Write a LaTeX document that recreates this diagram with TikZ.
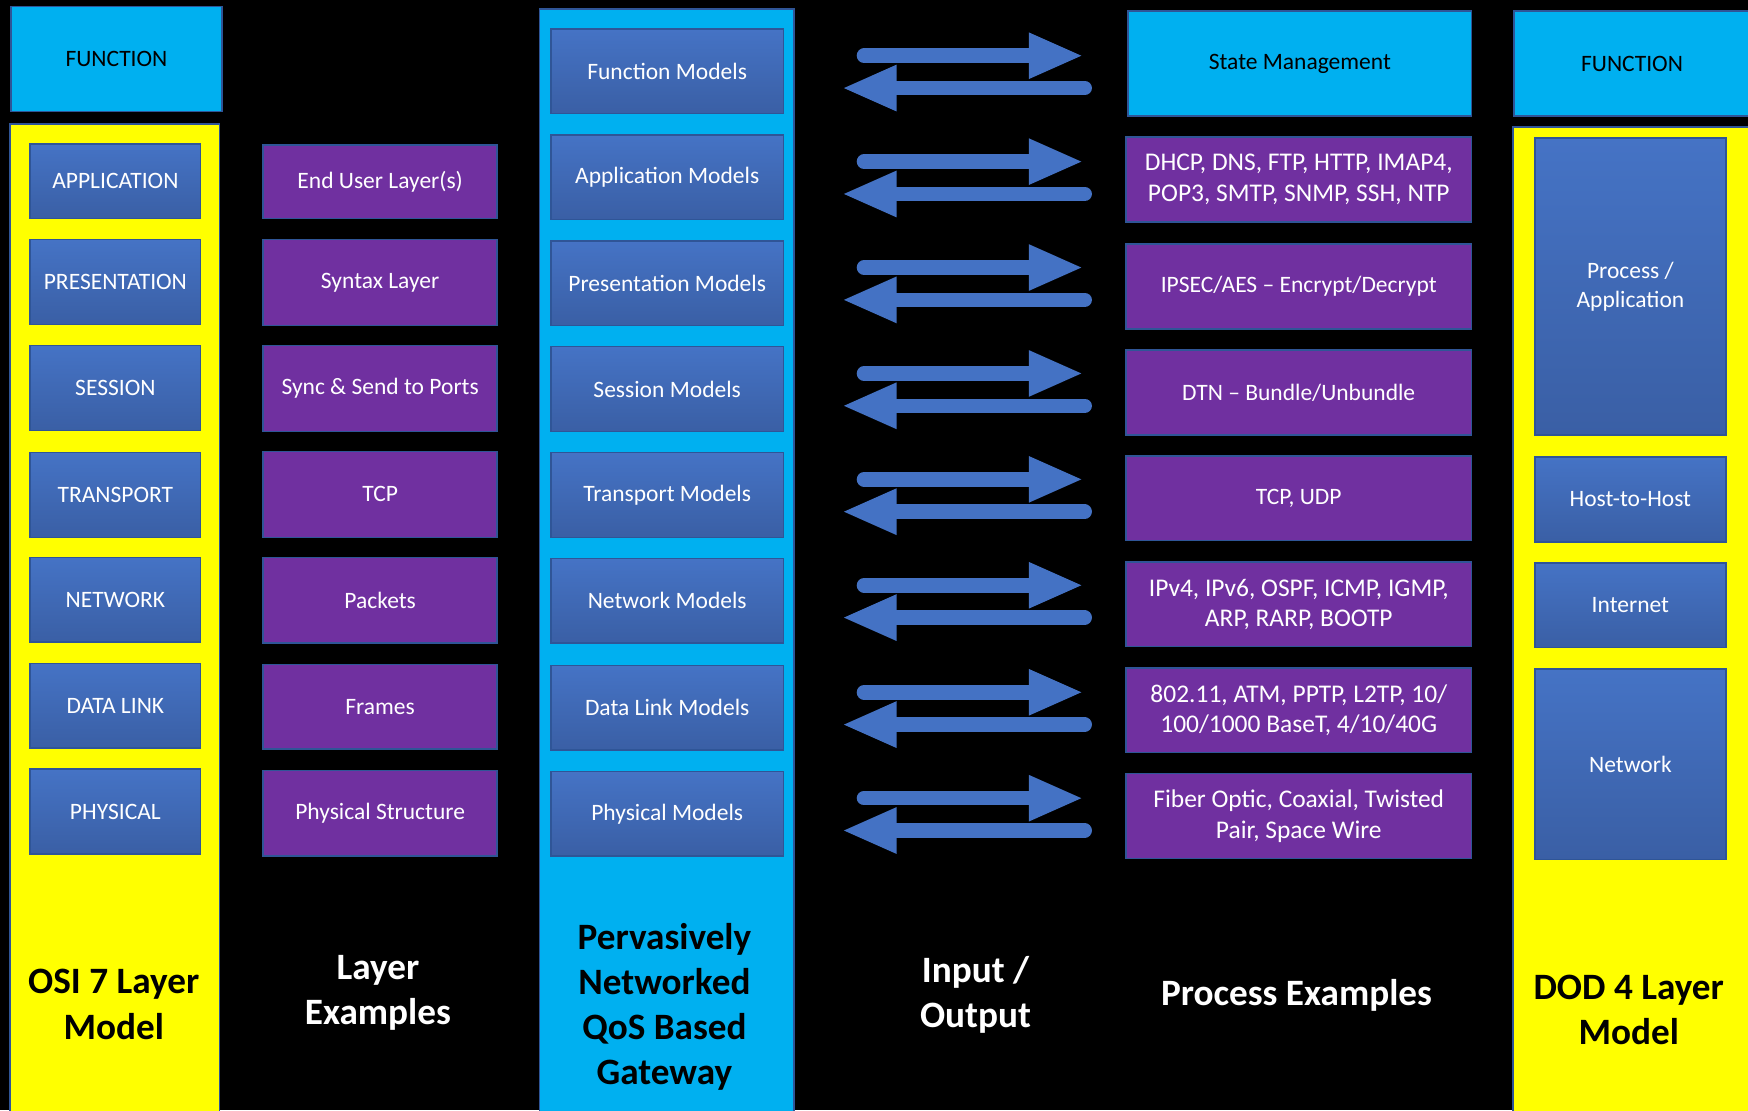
\documentclass[tikz,border=0pt]{standalone}
\usepackage{fontspec}
\setmainfont{Carlito}
\usetikzlibrary{arrows.meta}
\usetikzlibrary{calc}

\definecolor{funccyan}{HTML}{00B0F0}
\definecolor{bandyellow}{HTML}{FFFF00}
\definecolor{layerpurple}{HTML}{7030A0}
\definecolor{edgeblue}{HTML}{2F5597}
\definecolor{boxtop}{HTML}{4573C5}
\definecolor{boxbottom}{HTML}{3A5FA5}
\definecolor{arrowblue}{HTML}{4472C4}

\tikzset{
  cell/.style n args={4}{at={({(#1+#3)/2},{(#2+#4)/2})}, minimum width={(#3-#1)*0.02cm}, minimum height={(#4-#2)*0.02cm}},
  base/.style={rectangle, draw=edgeblue, line width=0.8pt, inner sep=0pt, align=center, font=\fontsize{12}{14.8}\selectfont},
  band/.style={base, draw=edgeblue},
  funcbox/.style={base, fill=funccyan, text=black},
  modelbox/.style={base, top color=boxtop, bottom color=boxbottom, text=white},
  examplebox/.style={base, fill=layerpurple, text=white},
  twoline/.style={font=\fontsize{13}{15.5}\selectfont},
  coltitle/.style={align=center, font=\fontsize{19}{23}\selectfont\bfseries},
  flow/.style={draw=arrowblue, line width=7.4pt, line cap=round, -{Triangle[length=28pt, width=21.5pt]}}
}

\begin{document}
\begin{tikzpicture}[x=0.02cm, y=-0.02cm]
    \useasboundingbox (0,0) rectangle (1568,996);
    \fill[black] (0,0) rectangle (1568,996);

    \node[funcbox, cell={10}{6}{199}{100}] (osifunc) {FUNCTION};
    \node[band, fill=bandyellow, cell={9}{111}{197}{1002}] (osiband) {};
    \foreach \n/\ya/\yb/\txt in {1/129/196/APPLICATION, 2/215/291/PRESENTATION, 3/310/386/SESSION, 4/406/482/TRANSPORT, 5/500/576/NETWORK, 6/595/671/DATA LINK, 7/690/766/PHYSICAL} {
        \node[modelbox, cell={27}{\ya}{180}{\yb}] (osi\n) {\txt};
    }
    \node[coltitle] (osititle) at (102,901) {OSI 7 Layer\\Model};

    \foreach \n/\ya/\yb/\txt in {1/130/196/End User Layer(s), 2/215/292/Syntax Layer, 3/310/387/{Sync \& Send to Ports}, 4/405/482/TCP, 5/500/577/Packets, 6/596/672/Frames, 7/691/768/Physical Structure} {
        \node[examplebox, cell={236}{\ya}{446}{\yb}] (lex\n) {\txt};
    }
    \node[coltitle, text=white] (lextitle) at (339,891) {Layer\\Examples};

    \node[band, fill=funccyan, cell={484}{8}{712}{1002}] (gwband) {};
    \foreach \n/\ya/\yb/\txt in {0/26/102/Function Models, 1/121/197/Application Models, 2/216/292/Presentation Models, 3/311/387/Session Models, 4/406/482/Transport Models, 5/501/577/Network Models, 6/597/673/Data Link Models, 7/692/768/Physical Models} {
        \node[modelbox, cell={494}{\ya}{703}{\yb}] (gw\n) {\txt};
    }
    \node[coltitle] (gwtitle) at (596,903) {Pervasively\\Networked\\QoS Based\\Gateway};

    \foreach \n/\y in {0/64, 1/159, 2/254, 3/349, 4/444, 5/539, 6/635, 7/730} {
        \coordinate (out\n) at (775,\y-14);
        \coordinate (outend\n) at (972,\y-14);
        \coordinate (back\n) at (973,\y+15);
        \coordinate (backend\n) at (755,\y+15);
        \draw[flow] (out\n) -- (outend\n);
        \draw[flow] (back\n) -- (backend\n);
    }
    \node[coltitle, text=white] (iotitle) at (875,892) {Input /\\Output};

    \node[funcbox, cell={1012}{10}{1320}{104}] (pex0) {State Management};
    \foreach \n/\ya/\yb/\st/\txt in {1/123/199/twoline/{DHCP, DNS, FTP, HTTP, IMAP4,\\POP3, SMTP, SNMP, SSH, NTP}, 2/219/295/base/{IPSEC/AES -- Encrypt/Decrypt}, 3/314/390/base/{DTN -- Bundle/Unbundle}, 4/409/485/base/{TCP, UDP}, 5/504/580/twoline/{IPv4, IPv6, OSPF, ICMP, IGMP,\\ARP, RARP, BOOTP}, 6/599/675/twoline/{802.11, ATM, PPTP, L2TP, 10/\\100/1000 BaseT, 4/10/40G}, 7/694/770/twoline/{Fiber Optic, Coaxial, Twisted\\Pair, Space Wire}} {
        \node[examplebox, \st, cell={1010}{\ya}{1320}{\yb}] (pex\n) {\txt};
    }
    \node[coltitle, text=white] (pextitle) at (1163,893) {Process Examples};

    \node[funcbox, cell={1358}{10}{1570}{104}] (dodfunc) {FUNCTION};
    \node[band, fill=bandyellow, cell={1357}{114}{1572}{1002}] (dodband) {};
    \foreach \n/\ya/\yb/\txt in {1/124/390/{Process /\\Application}, 2/410/486/Host-to-Host, 3/505/581/Internet, 4/600/771/Network} {
        \node[modelbox, cell={1377}{\ya}{1548}{\yb}] (dod\n) {\txt};
    }
    \node[coltitle] (dodtitle) at (1461,906) {DOD 4 Layer\\Model};
\end{tikzpicture}
\end{document}
